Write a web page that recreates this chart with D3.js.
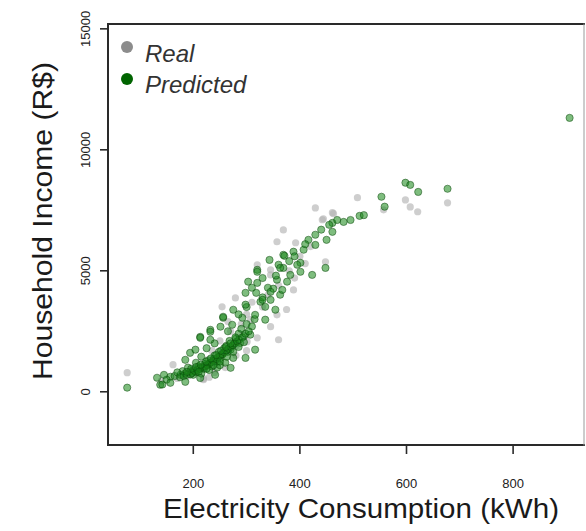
<!DOCTYPE html>
<html lang="en">
<head>
    <meta charset="UTF-8">
    <title>Household Income vs Electricity Consumption</title>
    <script src="https://cdnjs.cloudflare.com/ajax/libs/d3/7.8.5/d3.min.js"></script>
    <style>
        body {
            margin: 0;
            background: #fff;
            font-family: "Liberation Sans", Arial, sans-serif;
        }
        .tick-label {
            font-size: 13px;
            fill: #222;
        }
        .axis-title {
            font-size: 28px;
            fill: #1a1a1a;
        }
        .legend-label {
            font-size: 24px;
            font-style: italic;
            fill: #333;
        }
    </style>
</head>
<body>
    <div id="chart"></div>

    <script>
        // values: [kWh, income R$]
        const realPoints = [
            [76, 790], [219, 540], [219, 500], [162, 1120], [301, 2070], [320, 2230], [360, 2150],
            [320, 5250], [345, 4830], [388, 4210], [279, 3880], [254, 3510], [357, 3180], [345, 2690],
            [307, 2980], [508, 8020], [429, 7600], [461, 7400], [442, 7110], [369, 6690], [357, 6200],
            [448, 5370], [392, 6160], [345, 5040], [444, 7150], [463, 7360], [598, 7930], [607, 7640],
            [621, 7440], [677, 7810], [557, 7520],
            [180, 700], [200, 850], [220, 1100], [240, 1300], [260, 1600], [280, 1900], [235, 1700],
            [250, 2100], [270, 2500], [290, 2800], [300, 3200], [265, 2900], [330, 3500], [340, 4000],
            [310, 3700], [360, 4400], [380, 5000], [400, 5600], [420, 6000], [410, 5300], [300, 1700],
            [280, 1500], [260, 1000], [240, 800], [230, 600], [190, 650], [170, 550], [140, 450],
            [375, 3400], [390, 4700]
        ];

        const predictedPoints = [
            [906, 11320], [598, 8640], [607, 8550], [622, 8260], [677, 8390], [553, 8060], [559, 7650],
            [512, 7270], [482, 7020], [461, 6980], [461, 6610], [450, 6280], [429, 6490], [416, 6280],
            [429, 6070], [407, 5870], [388, 5790], [369, 5660], [343, 5450], [360, 5250], [401, 5330],
            [448, 5120], [423, 4830], [401, 4960], [320, 5040], [369, 5120], [371, 5620], [395, 5250],
            [363, 5120], [320, 4960], [320, 4500], [303, 4550], [357, 4630], [376, 4550], [350, 4260],
            [363, 4010], [318, 4090], [298, 4090], [326, 3720], [275, 3390], [335, 3510], [256, 3060],
            [292, 3060], [232, 2560], [251, 2690], [273, 2770], [213, 2270], [76, 170], [138, 290],
            [132, 580], [142, 300], [157, 620], [176, 700], [194, 830], [213, 990], [232, 1200],
            [251, 1400], [270, 1740], [288, 2020], [307, 2360], [194, 1610], [213, 2230], [232, 2480],
            [256, 3100],
            [165, 650], [185, 760], [200, 900], [205, 800], [210, 1050], [220, 950], [222, 1150],
            [228, 1300], [235, 1050], [238, 1350], [240, 1500], [245, 1250], [248, 1650], [255, 1550],
            [258, 1800], [262, 1900], [265, 1650], [268, 2100], [275, 1950], [280, 2200], [285, 2400],
            [290, 2600], [295, 2300], [300, 2800], [310, 2700], [315, 3000], [285, 3200], [265, 2500],
            [240, 2000], [225, 1800], [215, 1450], [205, 1200], [190, 1000], [180, 850], [170, 800],
            [150, 500], [145, 700], [200, 700], [215, 750], [230, 900], [245, 1000], [260, 1200],
            [275, 1400], [250, 1100], [340, 4300], [330, 3900], [345, 3800], [355, 4800], [310, 4300],
            [300, 3500], [330, 4700], [380, 5400], [390, 5600], [410, 6100], [440, 6700], [455, 6900],
            [470, 7100], [495, 7100], [520, 7300],
            [175, 600], [182, 650], [188, 700], [195, 720], [198, 780], [203, 860], [208, 900],
            [212, 950], [217, 1000], [222, 1050], [226, 1100], [230, 1150], [234, 1220], [238, 1280],
            [242, 1350], [246, 1420], [250, 1480], [254, 1560], [258, 1640], [262, 1700], [266, 1780],
            [270, 1850], [274, 1920], [278, 2000], [282, 2080], [286, 2150], [292, 2250], [298, 2400],
            [304, 2500], [196, 950], [205, 1020], [214, 1120], [224, 1250], [233, 1380], [243, 1520],
            [252, 1700], [261, 1850], [270, 2000], [279, 2250], [188, 820], [210, 820], [225, 950],
            [238, 1100], [250, 1250], [263, 1450], [275, 1650], [285, 1850], [295, 2050],
            [330, 3800], [345, 4130], [298, 3600], [316, 3180], [367, 4210], [382, 4830], [335, 2980],
            [354, 3390], [213, 570], [241, 700], [270, 990], [298, 1400], [316, 1740], [185, 410],
            [157, 370], [204, 1740], [232, 2150], [185, 1320]
        ];

        const xTicks = [200, 400, 600, 800];
        const yTicks = [0, 5000, 10000, 15000];
        const legendItems = [
            { label: "Real", color: "#8c8c8c" },
            { label: "Predicted", color: "#006400" }
        ];

        const width = 586, height = 531;
        const box = { left: 108, top: 24, right: 584, bottom: 445 };

        const svg = d3.select("#chart")
            .append("svg")
            .attr("width", width)
            .attr("height", height);

        const x = d3.scaleLinear().domain([40, 933]).range([box.left, box.right]);
        const y = d3.scaleLinear().domain([-2200, 15200]).range([box.bottom, box.top]);

        const defs = svg.append("defs");
        defs.append("filter").attr("id", "soft")
            .append("feGaussianBlur").attr("stdDeviation", 0.6);
        defs.append("clipPath").attr("id", "plot-clip")
            .append("rect")
            .attr("x", box.left).attr("y", box.top)
            .attr("width", box.right - box.left).attr("height", box.bottom - box.top);

        const pts = svg.append("g")
            .attr("clip-path", "url(#plot-clip)")
            .attr("filter", "url(#soft)");

        pts.selectAll(".real")
            .data(realPoints)
            .enter()
            .append("circle")
            .attr("class", "real")
            .attr("cx", d => x(d[0]))
            .attr("cy", d => y(d[1]))
            .attr("r", 3.6)
            .style("fill", "#b4b4b4")
            .style("fill-opacity", 0.65);

        pts.selectAll(".pred")
            .data(predictedPoints)
            .enter()
            .append("circle")
            .attr("class", "pred")
            .attr("cx", d => x(d[0]))
            .attr("cy", d => y(d[1]))
            .attr("r", 3.6)
            .style("fill", "#18861a")
            .style("fill-opacity", 0.55)
            .style("stroke", "#0b4a0b")
            .style("stroke-opacity", 0.65)
            .style("stroke-width", 0.8);

        // frame: dark on three sides, thin grey on the right like the source
        const frame = svg.append("g").style("stroke-linecap", "square");
        frame.append("path")
            .attr("d", `M${box.right},${box.top}H${box.left}V${box.bottom}H${box.right}`)
            .style("fill", "none")
            .style("stroke", "#2a2a2a")
            .style("stroke-width", 2);
        frame.append("line")
            .attr("x1", box.right).attr("x2", box.right)
            .attr("y1", box.top).attr("y2", box.bottom)
            .style("stroke", "#9a9a9a")
            .style("stroke-width", 1);

        // x axis ticks
        const xAxis = svg.append("g");
        xAxis.selectAll("line")
            .data(xTicks)
            .enter()
            .append("line")
            .attr("x1", d => x(d)).attr("x2", d => x(d))
            .attr("y1", box.bottom).attr("y2", box.bottom + 9)
            .style("stroke", "#2a2a2a")
            .style("stroke-width", 1.6);
        xAxis.selectAll("text")
            .data(xTicks)
            .enter()
            .append("text")
            .attr("class", "tick-label")
            .attr("x", d => x(d))
            .attr("y", 488)
            .attr("text-anchor", "middle")
            .text(d => d);

        // y axis ticks
        const yAxis = svg.append("g");
        yAxis.selectAll("line")
            .data(yTicks)
            .enter()
            .append("line")
            .attr("x1", box.left - 8).attr("x2", box.left)
            .attr("y1", d => y(d)).attr("y2", d => y(d))
            .style("stroke", "#2a2a2a")
            .style("stroke-width", 1.6);
        yAxis.selectAll("text")
            .data(yTicks)
            .enter()
            .append("text")
            .attr("class", "tick-label")
            .attr("transform", d => `translate(90,${y(d)}) rotate(-90)`)
            .attr("text-anchor", "middle")
            .text(d => d);

        svg.append("text")
            .attr("class", "axis-title")
            .attr("x", 361)
            .attr("y", 518)
            .attr("text-anchor", "middle")
            .attr("textLength", 396)
            .attr("lengthAdjust", "spacingAndGlyphs")
            .text("Electricity Consumption (kWh)");

        svg.append("text")
            .attr("class", "axis-title")
            .attr("transform", "translate(52,221) rotate(-90)")
            .attr("text-anchor", "middle")
            .attr("textLength", 318)
            .attr("lengthAdjust", "spacingAndGlyphs")
            .text("Household Income (R$)");

        // legend
        const legend = svg.append("g");
        legendItems.forEach((d, i) => {
            legend.append("circle")
                .attr("cx", 127)
                .attr("cy", 47 + i * 32)
                .attr("r", 6)
                .style("fill", d.color);
            legend.append("text")
                .attr("class", "legend-label")
                .attr("x", 145)
                .attr("y", 62 + i * 31)
                .text(d.label);
        });
    </script>
</body>
</html>
